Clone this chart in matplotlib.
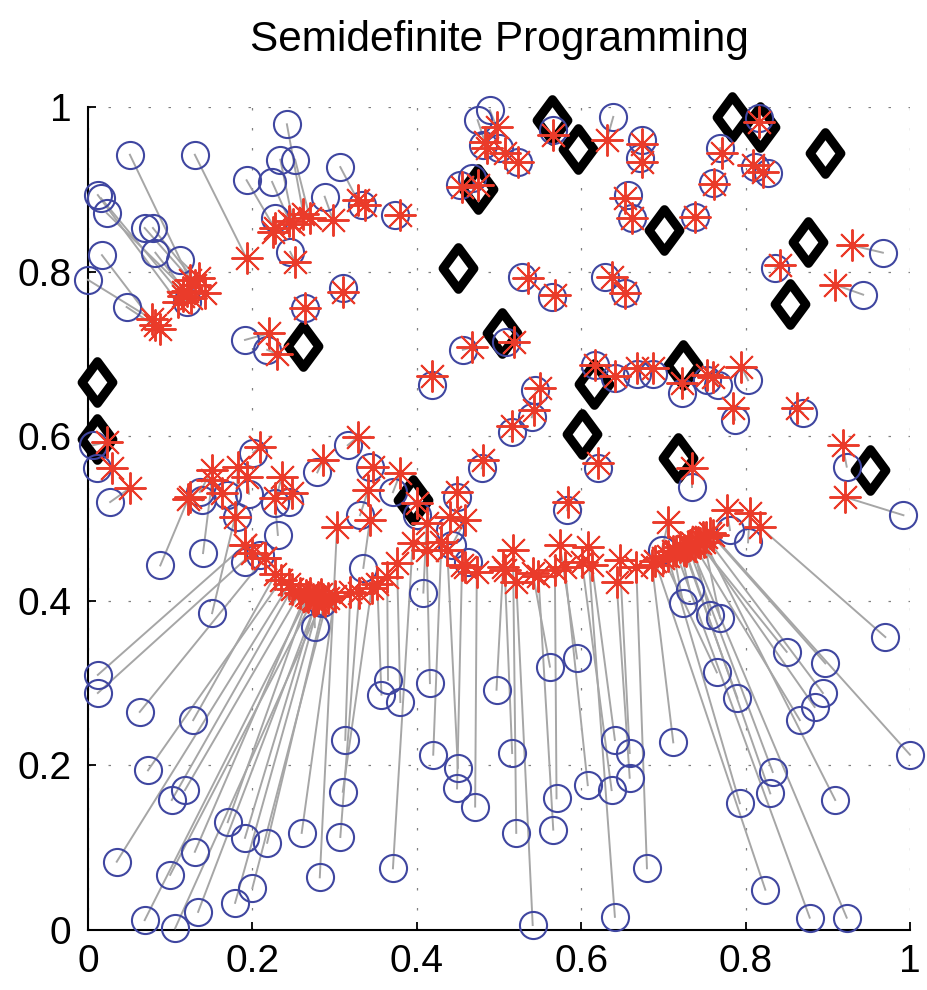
import numpy as np
import matplotlib.pyplot as plt
from matplotlib.path import Path

plt.rcParams['font.family'] = ['Liberation Sans', 'DejaVu Sans']

# original points (blue circles) and their embedded positions (red asterisks)
orig_x = [0.051, 0.130, 0.012, 0.016, 0.023, 0.069, 0.079, 0.082, 0.112, 0.017, 0.000, 0.047, 0.120,
          0.242, 0.252, 0.234, 0.193, 0.224, 0.227, 0.246, 0.191, 0.218, 0.307, 0.288, 0.333, 0.373, 0.310, 0.264,
          0.456, 0.418, 0.474, 0.489, 0.480, 0.500, 0.523, 0.452, 0.467, 0.508, 0.528, 0.564, 0.566, 0.639,
          0.674, 0.672, 0.657, 0.662, 0.738, 0.629, 0.653,
          0.816, 0.769, 0.760, 0.811, 0.827, 0.836, 0.967, 0.943,
          0.617, 0.641, 0.668, 0.687, 0.723, 0.753, 0.766, 0.803,
          0.787, 0.870, 0.923, 0.992, 0.781, 0.803, 0.698, 0.735, 0.583, 0.620, 0.544, 0.540, 0.516,
          0.479, 0.449, 0.440, 0.443, 0.462, 0.316, 0.279, 0.343, 0.371, 0.400, 0.331, 0.335, 0.408,
          0.006, 0.011, 0.027, 0.201, 0.136, 0.139, 0.169, 0.181, 0.227, 0.231, 0.088, 0.140, 0.151,
          0.191, 0.209, 0.285, 0.276, 0.196, 0.245,
          0.012, 0.012, 0.063, 0.128, 0.073, 0.118, 0.102, 0.170, 0.191, 0.218, 0.035, 0.130, 0.100,
          0.200, 0.179, 0.134, 0.069, 0.106, 0.260, 0.307, 0.282, 0.310, 0.313, 0.371, 0.365, 0.357,
          0.380, 0.416, 0.420, 0.450, 0.449, 0.471, 0.497, 0.516, 0.521, 0.541, 0.562, 0.566, 0.570,
          0.595, 0.608, 0.637, 0.641, 0.641, 0.659, 0.659, 0.680, 0.712, 0.732, 0.724, 0.757, 0.765,
          0.769, 0.790, 0.850, 0.897, 0.894, 0.884, 0.866, 0.970, 1.000, 0.833, 0.830, 0.793, 0.909,
          0.824, 0.878, 0.923]
orig_y = [0.942, 0.942, 0.893, 0.889, 0.871, 0.853, 0.853, 0.823, 0.814, 0.820, 0.790, 0.757, 0.763,
          0.979, 0.936, 0.936, 0.911, 0.909, 0.865, 0.824, 0.717, 0.705, 0.927, 0.891, 0.881, 0.869, 0.780, 0.756,
          0.705, 0.662, 0.984, 0.996, 0.954, 0.950, 0.933, 0.905, 0.914, 0.714, 0.793, 0.769, 0.972, 0.988,
          0.960, 0.938, 0.893, 0.865, 0.866, 0.793, 0.774,
          0.987, 0.950, 0.908, 0.927, 0.920, 0.804, 0.823, 0.772,
          0.687, 0.671, 0.676, 0.676, 0.652, 0.668, 0.662, 0.668,
          0.620, 0.628, 0.563, 0.504, 0.486, 0.471, 0.462, 0.538, 0.510, 0.561, 0.656, 0.623, 0.605,
          0.561, 0.526, 0.486, 0.468, 0.447, 0.589, 0.556, 0.563, 0.532, 0.504, 0.504, 0.440, 0.410,
          0.589, 0.561, 0.520, 0.580, 0.532, 0.522, 0.529, 0.502, 0.519, 0.480, 0.443, 0.458, 0.385,
          0.447, 0.456, 0.397, 0.368, 0.530, 0.520,
          0.310, 0.288, 0.265, 0.255, 0.194, 0.170, 0.158, 0.131, 0.112, 0.106, 0.083, 0.095, 0.067,
          0.051, 0.033, 0.022, 0.012, 0.002, 0.118, 0.113, 0.064, 0.168, 0.231, 0.075, 0.304, 0.286,
          0.277, 0.300, 0.213, 0.197, 0.172, 0.150, 0.292, 0.215, 0.118, 0.006, 0.320, 0.122, 0.160,
          0.330, 0.176, 0.170, 0.016, 0.231, 0.215, 0.185, 0.075, 0.228, 0.413, 0.397, 0.383, 0.313,
          0.379, 0.282, 0.338, 0.324, 0.288, 0.271, 0.255, 0.356, 0.213, 0.192, 0.166, 0.154, 0.158,
          0.049, 0.015, 0.015]
embed_x = [0.124, 0.193, 0.109, 0.115, 0.120, 0.130, 0.142, 0.125, 0.135, 0.082, 0.078, 0.088, 0.115,
           0.262, 0.270, 0.250, 0.227, 0.245, 0.225, 0.252, 0.220, 0.230, 0.328, 0.298, 0.337, 0.380, 0.310, 0.264,
           0.467, 0.418, 0.483, 0.497, 0.485, 0.507, 0.523, 0.455, 0.474, 0.518, 0.535, 0.568, 0.566, 0.631,
           0.674, 0.674, 0.653, 0.662, 0.738, 0.637, 0.653,
           0.816, 0.771, 0.762, 0.809, 0.821, 0.842, 0.929, 0.909,
           0.617, 0.641, 0.668, 0.687, 0.723, 0.753, 0.760, 0.795,
           0.785, 0.862, 0.918, 0.921, 0.777, 0.805, 0.706, 0.735, 0.584, 0.620, 0.550, 0.542, 0.516,
           0.481, 0.449, 0.440, 0.459, 0.459, 0.328, 0.286, 0.347, 0.380, 0.400, 0.341, 0.343, 0.412,
           0.023, 0.029, 0.051, 0.209, 0.151, 0.124, 0.163, 0.182, 0.236, 0.227, 0.122, 0.151, 0.179,
           0.191, 0.215, 0.280, 0.275, 0.194, 0.248,
           0.191, 0.200, 0.215, 0.228, 0.235, 0.258, 0.248, 0.268, 0.278, 0.288, 0.245, 0.265, 0.274,
           0.292, 0.284, 0.280, 0.270, 0.286, 0.300, 0.330, 0.303, 0.345, 0.319, 0.395, 0.364, 0.352,
           0.376, 0.412, 0.430, 0.437, 0.455, 0.473, 0.505, 0.507, 0.517, 0.521, 0.541, 0.548, 0.568,
           0.574, 0.580, 0.601, 0.608, 0.613, 0.647, 0.643, 0.667, 0.686, 0.720, 0.712, 0.735, 0.700,
           0.748, 0.725, 0.742, 0.757, 0.752, 0.745, 0.738, 0.817, 0.760, 0.730, 0.727, 0.705, 0.750,
           0.690, 0.715, 0.732]
embed_y = [0.790, 0.816, 0.763, 0.770, 0.776, 0.784, 0.774, 0.768, 0.792, 0.735, 0.742, 0.730, 0.775,
           0.870, 0.865, 0.858, 0.853, 0.862, 0.848, 0.812, 0.725, 0.700, 0.887, 0.863, 0.881, 0.869, 0.775, 0.756,
           0.708, 0.673, 0.957, 0.976, 0.950, 0.944, 0.933, 0.903, 0.905, 0.714, 0.792, 0.771, 0.966, 0.960,
           0.955, 0.933, 0.889, 0.865, 0.866, 0.793, 0.774,
           0.982, 0.944, 0.906, 0.929, 0.921, 0.808, 0.832, 0.784,
           0.687, 0.673, 0.683, 0.683, 0.665, 0.674, 0.672, 0.684,
           0.634, 0.634, 0.589, 0.526, 0.510, 0.507, 0.496, 0.561, 0.520, 0.567, 0.659, 0.632, 0.612,
           0.571, 0.532, 0.502, 0.498, 0.441, 0.599, 0.571, 0.563, 0.555, 0.519, 0.535, 0.498, 0.495,
           0.593, 0.561, 0.537, 0.587, 0.559, 0.526, 0.531, 0.563, 0.551, 0.525, 0.524, 0.547, 0.502,
           0.468, 0.452, 0.405, 0.400, 0.550, 0.531,
           0.468, 0.458, 0.452, 0.432, 0.425, 0.410, 0.414, 0.405, 0.401, 0.400, 0.420, 0.407, 0.402,
           0.404, 0.408, 0.404, 0.410, 0.402, 0.406, 0.410, 0.490, 0.415, 0.411, 0.470, 0.429, 0.420,
           0.446, 0.462, 0.472, 0.462, 0.443, 0.435, 0.441, 0.437, 0.462, 0.423, 0.434, 0.430, 0.437,
           0.468, 0.441, 0.447, 0.465, 0.444, 0.450, 0.423, 0.441, 0.444, 0.465, 0.460, 0.470, 0.452,
           0.478, 0.462, 0.472, 0.482, 0.477, 0.470, 0.466, 0.490, 0.480, 0.466, 0.460, 0.455, 0.472,
           0.448, 0.460, 0.468]

# anchor points (black diamonds)
anchor_x = [0.011, 0.011, 0.262, 0.450, 0.474, 0.395, 0.504, 0.564, 0.596, 0.601,
            0.615, 0.701, 0.724, 0.718, 0.783, 0.818, 0.897, 0.876, 0.854, 0.951]
anchor_y = [0.666, 0.597, 0.710, 0.805, 0.900, 0.522, 0.725, 0.984, 0.949, 0.603,
            0.664, 0.850, 0.686, 0.573, 0.988, 0.976, 0.944, 0.836, 0.761, 0.559]

diamond = Path([(0, 1), (0.74, 0), (0, -1), (-0.74, 0), (0, 1)],
               [Path.MOVETO, Path.LINETO, Path.LINETO, Path.LINETO, Path.CLOSEPOLY])

fig = plt.figure(figsize=(9.28, 9.9), dpi=100)
ax = fig.add_axes([0.0948, 0.0606, 0.8858, 0.8313])

ax.plot(anchor_x, anchor_y, linestyle='none', marker=diamond, markersize=30,
        markerfacecolor='white', markeredgecolor='black', markeredgewidth=6.5,
        zorder=3, clip_on=False)

ax.plot(np.vstack([orig_x, embed_x]), np.vstack([orig_y, embed_y]),
        color='#a6a6a6', linewidth=1.4, zorder=4, clip_on=False)

ax.plot(orig_x, orig_y, linestyle='none', marker='o', markersize=19.5,
        markerfacecolor='none', markeredgecolor='#3f46a0', markeredgewidth=1.5,
        zorder=5, clip_on=False)

ax.plot(embed_x, embed_y, linestyle='none', marker=(8, 2, 0), markersize=23,
        markeredgecolor='#ea3b2a', markeredgewidth=1.4, zorder=6, clip_on=False)

ax.set_xlim(0, 1)
ax.set_ylim(0, 1)
ticks = [0, 0.2, 0.4, 0.6, 0.8, 1]
labels = ['0', '0.2', '0.4', '0.6', '0.8', '1']
ax.set_xticks(ticks)
ax.set_xticklabels(labels)
ax.set_yticks(ticks)
ax.set_yticklabels(labels)
ax.tick_params(direction='in', length=6, width=1.3, labelsize=28, pad=10)
ax.tick_params(axis='y', pad=12)

ax.spines['top'].set_visible(False)
ax.spines['right'].set_visible(False)
ax.spines['left'].set_linewidth(1.5)
ax.spines['bottom'].set_linewidth(1.5)

ax.grid(True, color='#808080', linewidth=0.9, linestyle=(0, (2, 14)))
ax.set_axisbelow(True)

fig.text(0.5377, 0.96, 'Semidefinite Programming', ha='center', va='center', fontsize=30.5)

fig.savefig('out.png', dpi=100)
